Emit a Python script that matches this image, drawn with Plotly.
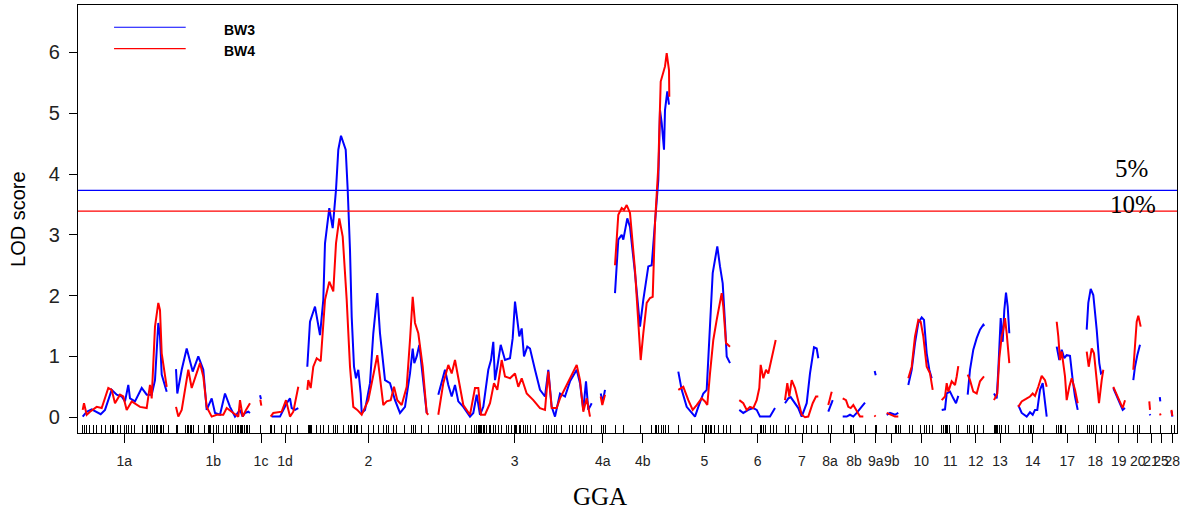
import plotly.graph_objects as go

N = None

# Chromosome (GGA) labels and their centre positions on the cumulative map
chrom_labels = ["1a", "1b", "1c", "1d", "2", "3", "4a", "4b", "5", "6", "7", "8a", "8b", "9a", "9b",
                "10", "11", "12", "13", "14", "17", "18", "19", "20", "21", "25", "28"]
chrom_centers = [46.3, 135.3, 183, 207, 290.3, 436.7, 524.7, 564.7, 626.3, 679.7, 724, 752, 776, 797.7, 813.7,
                 843.3, 872.3, 897.7, 922, 954.7, 989.3, 1017.3, 1040.7, 1059.7, 1073, 1083, 1094.3]

# Marker positions (rug)
marker_pos = [4.7, 6.3, 8, 11.3, 15, 18.7, 23.7, 27.3, 32, 34.3, 35.7, 39.3, 42.3, 46.7, 48.3, 50, 53.3, 56.7,
              64.7, 68, 69.7, 72.3, 74.7, 76.3, 78, 79.7, 82.3, 83.3, 85.7, 90.7, 98, 99, 107.7, 109.3, 110.7,
              112, 113.3, 115.7, 120.7, 126, 130.3, 131.3, 132.7, 135.3, 138.7, 140.7, 145.3, 148, 152, 154.7,
              157.7, 159.7, 160.7, 162, 163.3, 164.7, 166.3, 168, 169.7, 171.3, 182, 192, 193.7, 196, 203.7,
              208.7, 212, 219.7, 230.3, 231.3, 232.7, 233.7, 238.7, 242.7, 245.3, 250.3, 255.3, 257, 259.3,
              265.3, 270.3, 272, 273.7, 276, 278, 279.3, 283.7, 290.3, 295.3, 300.3, 305.3, 308.7, 310.3, 315.3,
              318.7, 326, 333.7, 335.3, 337, 343.7, 350.3, 360.3, 364.7, 367, 370.3, 373.7, 376.3, 378, 381.3,
              387, 393.7, 396, 398.7, 400.3, 401.3, 402.3, 403.7, 405.3, 406.3, 408.7, 411, 412.7, 415.3, 417,
              420.3, 423.7, 428, 430.3, 433.7, 436, 437.7, 438.7, 441, 442, 445.3, 447, 449.3, 452, 457, 465.3,
              468, 470.3, 473.7, 476, 478, 483.7, 491.3, 494.7, 498.7, 502, 505.3, 508.7, 513.7, 523.7, 525.3,
              527, 537, 545.3, 562, 573.7, 577, 578.7, 580.3, 583.7, 585.3, 587, 590.3, 600.3, 613.7, 624.7,
              627, 628.7, 630.3, 632, 633.7, 636, 640.3, 645.3, 648.7, 652, 662, 673.7, 682, 683.7, 685.3, 687,
              692, 695.3, 698.7, 707, 710.3, 717, 725.3, 728.7, 733.7, 739.3, 750.3, 753.7, 765.3, 772, 773.7,
              775.3, 787, 797, 798.7, 808.7, 817, 818.7, 820.3, 822, 831.3, 834.7, 842, 846, 848.7, 851.3, 854.7,
              863.7, 865.3, 867, 868, 869.3, 871.3, 878, 880.3, 889.7, 891.3, 896, 899.3, 905.3, 916.3, 917.7,
              918.7, 919.7, 921.3, 923.7, 927, 930.3, 941.3, 945.3, 950.3, 952, 953.7, 955.3, 965.3, 978.7,
              980.3, 982, 983.7, 987, 1000.3, 1009.3, 1011.3, 1013.7, 1015.3, 1018.7, 1023.7, 1028.7, 1034.7,
              1040.3, 1047, 1055.3, 1059.3, 1061.3, 1072, 1082.7, 1093.7, 1096]

# BW3 LOD profile (None separates chromosomes)
bw3_pos = [
    4.7, 8.7, 13.7, 18.7, 22.7, 27, 33.7, 38.7, 43.7, 47, 50.3, 52, 57, 63.7, 68.7, 73.7, 77, 80.3, 82, 83.7, 88.7, N,
    98, 99.3, 103.7, 108.7, 114.7, 120.3, 125.3, 128.7, 133.7, 137, 142, 147, 152, 157, 162, 164.7, 167, 170.3, 172, N,
    182, 183, N,
    193.7, 202, 208.7, 212, 213.7, 217, 220.3, N,
    229.3, 232, 237, 242, 245.3, 247, 251.3, 254.7, 258, 260.3, 263, 265.3, 267.7, 269.7, 272, 273.7, 276, 278, 280.3,
    282.7, 283.7, 287, 292, 295.3, 299.3, 302, 307, 312, 317, 322, 327, 332, 334.7, 336.3, 338.7, 341.3, 343.7, 348.7, N,
    360.3, 367, 370.3, 373.7, 377, 380.3, 385.3, 392, 395.3, 398.7, 402, 405.3, 410.3, 413, 415.3, 417, 419.3, 422.7,
    427, 432, 434.7, 437, 439.3, 441.3, 443.7, 446, 449.3, 452, 457, 462, 467, 470.3, 473.7, 477, 482, 487, 492,
    498.7, 502, 505.3, 508, 510.3, 513.7, N,
    522.7, 524.7, 527, N,
    537, 540.3, 543.7, 545.3, 549.3, 552, 557, 562, 565.3, 570.3, 573.7, 576, 578.7, 580.3, 582, 583.7, 586, 587,
    589.3, 591, N,
    600.3, 603.7, 608.7, 613.7, 617, 620.3, 625.3, 628.7, 631.3, 634.7, 637, 639.3, 642, 644.7, 647, 648.7, 652, N,
    661.3, 665.3, 670.3, 675.3, 678.7, 682, 692, 697, N,
    707, 710.3, 712.7, 717, 720.3, 723.7, 728.7, 732, 736, 738.7, 740.3, N,
    750.3, 752.7, 754.7, N,
    764.7, 768.7, 772, 775.3, 778.7, 783.7, 787, N,
    796.7, 797.7, N,
    808.7, 812, 817, 820.3, N,
    830.3, 833.7, 837, 840.3, 843.7, 846, 848.7, 851.3, 853.7, N,
    863.7, 867, 868.7, 872, 875.3, 878, 880.3, N,
    889.7, 892, 895.3, 898.7, 902, 905.3, 906.3, N,
    916, 918.7, 920.3, 922.7, 924.7, 926.3, 928, 929.7, 931.3, N,
    940.3, 943.7, 948.7, 952, 954.7, 957, 959.3, 962, 964.7, 967, 968.7, N,
    978.7, 981.3, 983.7, 986.3, 988.7, 992, 994.7, 997, 999.7, N,
    1008.7, 1010.3, 1012.7, 1015.3, 1018.7, 1021.3, 1023, 1025.3, N,
    1035.3, 1038.7, 1042, 1044.7, 1047, N,
    1055.3, 1057, 1059.3, 1062, N,
    1071.7, 1072.3, N,
    1081.8, 1082.3, N,
    1093.5, 1094.3,
]
bw3_lod = [
    0.01, 0.09, 0.13, 0.09, 0.05, 0.12, 0.45, 0.37, 0.34, 0.26, 0.53, 0.31, 0.26, 0.48, 0.37, 0.37, 0.61, 1.55, 1.33, 0.70, 0.42, N,
    0.79, 0.39, 0.78, 1.13, 0.75, 1.0, 0.78, 0.12, 0.31, 0.07, 0.04, 0.39, 0.17, 0.01, 0.12, 0.01, 0.07, 0.09, 0.07, N,
    0.36, 0.30, N,
    0.01, 0.01, 0.23, 0.31, 0.15, 0.12, 0.15, N,
    0.83, 1.57, 1.82, 1.35, 1.93, 2.86, 3.44, 3.11, 3.74, 4.40, 4.63, 4.51, 4.40, 3.74, 2.75, 1.65, 0.83, 0.64, 0.78,
    0.39, 0.07, 0.12, 0.56, 1.38, 2.04, 1.38, 0.61, 0.56, 0.28, 0.07, 0.17, 0.72, 1.13, 0.89, 1.0, 1.19, 0.83, 0.07, N,
    0.37, 0.78, 0.53, 0.34, 0.53, 0.26, 0.17, 0.01, 0.07, 0.37, 0.04, 0.17, 0.78, 0.94, 1.24, 0.61, 0.83, 1.19,
    0.94, 0.97, 1.30, 1.90, 1.60, 1.33, 1.46, 1.0, 1.16, 1.13, 0.78, 0.45, 0.34, 0.78, 0.17, 0.01, 0.39, 0.34, 0.59,
    0.78, 0.56, 0.12, 0.59, 0.12, 0.23, N,
    0.39, 0.25, 0.45, N,
    2.04, 2.92, 3.0, 2.92, 3.27, 3.13, 2.37, 1.49, 1.93, 2.48, 2.50, 2.97, 3.52, 3.90, 5.05, 4.84, 4.40, 5.05,
    5.36, 5.14, N,
    0.75, 0.45, 0.17, 0.07, 0.01, 0.17, 0.39, 0.45, 1.27, 2.37, 2.59, 2.81, 2.48, 2.20, 1.55, 1.0, 0.89, N,
    0.12, 0.07, 0.12, 0.15, 0.12, 0.01, 0.01, 0.15, N,
    0.23, 0.31, 0.33, 0.23, 0.15, 0.01, 0.23, 0.72, 1.15, 1.13, 0.97, N,
    0.09, 0.20, 0.28, N,
    0.01, 0.01, 0.04, 0.01, 0.07, 0.17, 0.24, N,
    0.76, 0.69, N,
    0.04, 0.07, 0.04, 0.07, N,
    0.53, 0.78, 1.22, 1.55, 1.64, 1.60, 1.05, 0.78, 0.64, N,
    0.12, 0.13, 0.39, 0.42, 0.31, 0.23, 0.35, N,
    0.37, 0.78, 1.11, 1.30, 1.44, 1.52, 1.50, N,
    0.39, 0.31, 0.78, 1.63, 1.24, 1.76, 2.05, 1.82, 1.38, N,
    0.20, 0.07, 0.01, 0.08, 0.04, 0.12, 0.12, 0.45, 0.56, 0.23, 0.01, N,
    1.16, 0.94, 1.11, 0.97, 1.02, 1.01, 0.61, 0.34, 0.12, N,
    1.44, 1.88, 2.11, 2.01, 1.44, 0.89, 0.72, 0.75, N,
    0.48, 0.34, 0.23, 0.12, 0.15, N,
    0.61, 0.83, 1.02, 1.19, N,
    0.05, 0.03, N,
    0.33, 0.26, N,
    0.10, 0.01,
]

# BW4 LOD profile
bw4_pos = [
    4.7, 6, 8.7, 12, 18.7, 23.7, 30.3, 33.7, 37, 42, 45.3, 48.7, 53.7, 62, 68.7, 72, 73.7, 77, 80.3, 82, 83.7, 88.7, N,
    98, 100.3, 103.7, 110.3, 113.7, 117, 122, 125.3, 128.7, 133.7, 138.7, 145.3, 148.7, 155.3, 160.3, 162, 164.7, 168, 172, N,
    182.3, 183.3, N,
    192.7, 195.3, 203.7, 208, 212, 215.3, 220.3, N,
    229.3, 230.3, 232.7, 235.3, 238.7, 242.7, 247, 251.3, 255.3, 258, 261.3, 264.7, 268.7, 272, 275.3, 279.3, 283.7,
    290.3, 299.3, 302, 305.3, 308.7, 312.7, 316, 319.3, 323.7, 328.7, 332, 334.7, 337, 340.3, 344.7, 348.7, 350.3, N,
    360.3, 365.3, 370.3, 373.7, 377, 380.3, 385.3, 392, 397, 400.3, 403, 407, 412, 416, 419.3, 423.7, 427, 432, 437,
    440.3, 443.7, 448.7, 455.3, 462, 467, 470.3, 473.7, 478.7, 482, 488.7, 498.7, 502, 505.3, 508.7, 512, N,
    522.7, 524.3, 527, N,
    537, 540.3, 543.7, 546, 548.7, 552, 557, 560.3, 562.7, 565.3, 568.7, 572, 574.7, 577, 580.3, 582.7, 584.7, 587,
    588.7, 591, 591.3, N,
    600.3, 605.3, 610.3, 614.7, 618.7, 623.7, 627, 629.3, 632, 635.3, 638.7, 642, 643.7, 645.3, 648, 652, N,
    661.3, 665.3, 668.7, 672, 675.3, 678.7, 681.3, 682.7, 685.3, 688, 690.3, 692.7, 695.3, 697.7, N,
    707, 709.3, 711.3, 713.7, 717, 720.3, 723.7, 727, 730.3, 734.7, 738, 740.3, N,
    750.3, 752, 753.7, N,
    764.7, 768, 770.3, 772.7, 775.3, 778.7, 782, 785.3, N,
    796.5, 797.5, N,
    808.7, 813.7, 817, 820.3, N,
    830.3, 833.7, 837, 840.3, 842.7, 845.3, 848.7, 852, 854.7, N,
    863.7, 867, 868.7, 870.3, 873.7, 877, 878.7, 880.3, N,
    889.7, 892, 895.3, 898.7, 902, 906, N,
    916, 919.3, 921.3, 923.7, 925.3, 927, 928.7, 931.3, N,
    940.3, 943.7, 948, 952, 954.7, 957, 960.3, 963.7, 967, 968.7, N,
    978.7, 980.3, 982, 983.7, 987, 988.7, 991.3, 993.7, 997, 999.7, N,
    1008.7, 1010.7, 1013.7, 1016, 1018.7, 1021, 1023.7, 1025.3, N,
    1035.3, 1038.7, 1042, 1044.7, 1047, N,
    1055.3, 1057, 1058.7, 1060.3, 1062.7, N,
    1071.3, 1072, N,
    1082, 1082.6, N,
    1093.5, 1094.3,
]
bw4_lod = [
    0.12, 0.23, 0.04, 0.09, 0.17, 0.15, 0.48, 0.45, 0.23, 0.37, 0.34, 0.12, 0.26, 0.17, 0.15, 0.53, 0.31, 1.49, 1.88, 1.76, 1.05, 0.50, N,
    0.17, 0.01, 0.12, 0.78, 0.48, 0.64, 0.89, 0.67, 0.17, 0.01, 0.04, 0.04, 0.15, 0.07, 0.01, 0.28, 0.01, 0.12, 0.23, N,
    0.29, 0.19, N,
    0.01, 0.07, 0.09, 0.28, 0.01, 0.09, 0.50, N,
    0.45, 0.61, 0.48, 0.83, 0.97, 0.92, 1.93, 2.23, 2.07, 2.86, 3.27, 2.97, 1.93, 0.83, 0.17, 0.12, 0.04,
    0.28, 1.02, 0.67, 0.20, 0.26, 0.28, 0.50, 0.28, 0.20, 0.50, 1.27, 1.98, 1.55, 1.38, 0.83, 0.07, 0.04, N,
    0.04, 0.56, 0.86, 0.72, 0.94, 0.67, 0.20, 0.04, 0.48, 0.48, 0.04, 0.04, 0.23, 0.56, 0.45, 0.94, 0.67, 0.64, 0.72,
    0.50, 0.64, 0.39, 0.28, 0.15, 0.12, 0.75, 0.15, 0.15, 0.31, 0.53, 0.86, 0.61, 0.09, 0.31, 0.01, N,
    0.34, 0.20, 0.37, N,
    2.50, 3.33, 3.44, 3.41, 3.49, 3.36, 2.42, 1.44, 0.94, 1.38, 1.88, 1.96, 1.98, 3.19, 4.12, 5.52, 5.66, 5.77,
    5.99, 5.71, 5.27, N,
    0.45, 0.50, 0.28, 0.12, 0.20, 0.31, 0.26, 0.20, 0.72, 1.27, 1.60, 1.88, 2.04, 1.82, 1.22, 1.16, N,
    0.28, 0.23, 0.12, 0.17, 0.15, 0.28, 0.48, 0.86, 0.64, 0.78, 0.72, 0.89, 1.11, 1.27, N,
    0.28, 0.56, 0.34, 0.61, 0.48, 0.28, 0.04, 0.0, 0.01, 0.23, 0.34, 0.34, N,
    0.20, 0.31, 0.42, N,
    0.31, 0.28, 0.17, 0.15, 0.20, 0.09, 0.01, 0.01, N,
    0.03, 0.01, N,
    0.07, 0.04, 0.01, 0.01, N,
    0.64, 0.83, 1.33, 1.60, 1.57, 1.33, 0.83, 0.72, 0.45, N,
    0.28, 0.34, 0.56, 0.42, 0.59, 0.53, 0.67, 0.84, N,
    0.70, 0.61, 0.42, 0.39, 0.59, 0.67, N,
    0.28, 0.39, 0.97, 1.33, 1.44, 1.63, 1.38, 0.89, N,
    0.17, 0.26, 0.30, 0.34, 0.39, 0.35, 0.50, 0.68, 0.61, 0.50, N,
    1.57, 1.33, 0.94, 1.08, 0.67, 0.28, 0.50, 0.64, 0.45, 0.23, N,
    1.08, 0.83, 1.13, 1.05, 0.61, 0.23, 0.61, 0.78, N,
    0.50, 0.37, 0.26, 0.15, 0.28, N,
    0.78, 1.22, 1.57, 1.67, 1.49, N,
    0.26, 0.12, N,
    0.06, 0.03, N,
    0.12, 0.02,
]

# Significance thresholds
thr_5pct = 3.73
thr_10pct = 3.39

SANS = "Arial, Liberation Sans, sans-serif"
SERIF = "Times New Roman, Liberation Serif, serif"

fig = go.Figure()
fig.add_trace(go.Scatter(x=bw3_pos, y=bw3_lod, mode="lines", name="BW3",
                         line=dict(color="#0000FF", width=2), showlegend=False, hoverinfo="skip"))
fig.add_trace(go.Scatter(x=bw4_pos, y=bw4_lod, mode="lines", name="BW4",
                         line=dict(color="#FF0000", width=2), showlegend=False, hoverinfo="skip"))

fig.add_hline(y=thr_5pct, line=dict(color="#0000FF", width=1.2))
fig.add_hline(y=thr_10pct, line=dict(color="#FF0000", width=1.2))

fig.add_annotation(x=1053.7, y=thr_5pct + 0.36, text="5%", showarrow=False,
                   font=dict(family=SERIF, size=25, color="black"), xanchor="center", yanchor="middle")
fig.add_annotation(x=1055.3, y=thr_10pct + 0.11, text="10%", showarrow=False,
                   font=dict(family=SERIF, size=25, color="black"), xanchor="center", yanchor="middle")

# manual legend
legend_items = [("BW3", "#0000FF", 0.948, 0.9416), ("BW4", "#FF0000", 0.898, 0.8925)]
for name, col, ly, ty in legend_items:
    fig.add_shape(type="line", xref="paper", yref="paper", x0=0.0328, x1=0.098, y0=ly, y1=ly,
                  line=dict(color=col, width=1.2))
    fig.add_annotation(xref="paper", yref="paper", x=0.1308, y=ty, text="<b>%s</b>" % name, showarrow=False,
                       xanchor="left", yanchor="middle", font=dict(family=SANS, size=14, color="black"))

fig.add_annotation(xref="paper", yref="paper", x=-0.0546, y=0.5, text="LOD score", textangle=-90,
                   showarrow=False, xanchor="center", yanchor="middle",
                   font=dict(family=SANS, size=20, color="black"))
fig.add_annotation(xref="paper", yref="paper", x=0.475, y=-0.149, text="GGA", showarrow=False,
                   xanchor="center", yanchor="middle", font=dict(family=SERIF, size=25, color="black"))

fig.update_layout(
    width=1187, height=513, autosize=False,
    margin=dict(l=78, r=10, t=5, b=80, pad=0),
    paper_bgcolor="white", plot_bgcolor="white",
    xaxis=dict(range=[0, 1099], showgrid=False, zeroline=False, showline=True, mirror=True,
               linecolor="black", linewidth=1.2,
               tickmode="array", tickvals=chrom_centers, ticktext=chrom_labels, tickangle=0,
               ticks="outside", ticklen=9, tickwidth=1, tickcolor="black",
               tickfont=dict(family=SANS, size=14, color="#222"), ticklabelstandoff=6,
               minor=dict(tickmode="array", tickvals=marker_pos, ticks="inside", ticklen=8,
                          tickwidth=1, tickcolor="black", showgrid=False)),
    yaxis=dict(range=[-0.26, 6.78], showgrid=False, zeroline=False, showline=True, mirror=True,
               linecolor="black", linewidth=1.2,
               tickmode="array", tickvals=[0, 1, 2, 3, 4, 5, 6],
               ticks="outside", ticklen=8, tickwidth=1, tickcolor="black",
               tickfont=dict(family=SANS, size=20, color="#222"), ticklabelstandoff=5),
)

fig.write_html("out.html")
